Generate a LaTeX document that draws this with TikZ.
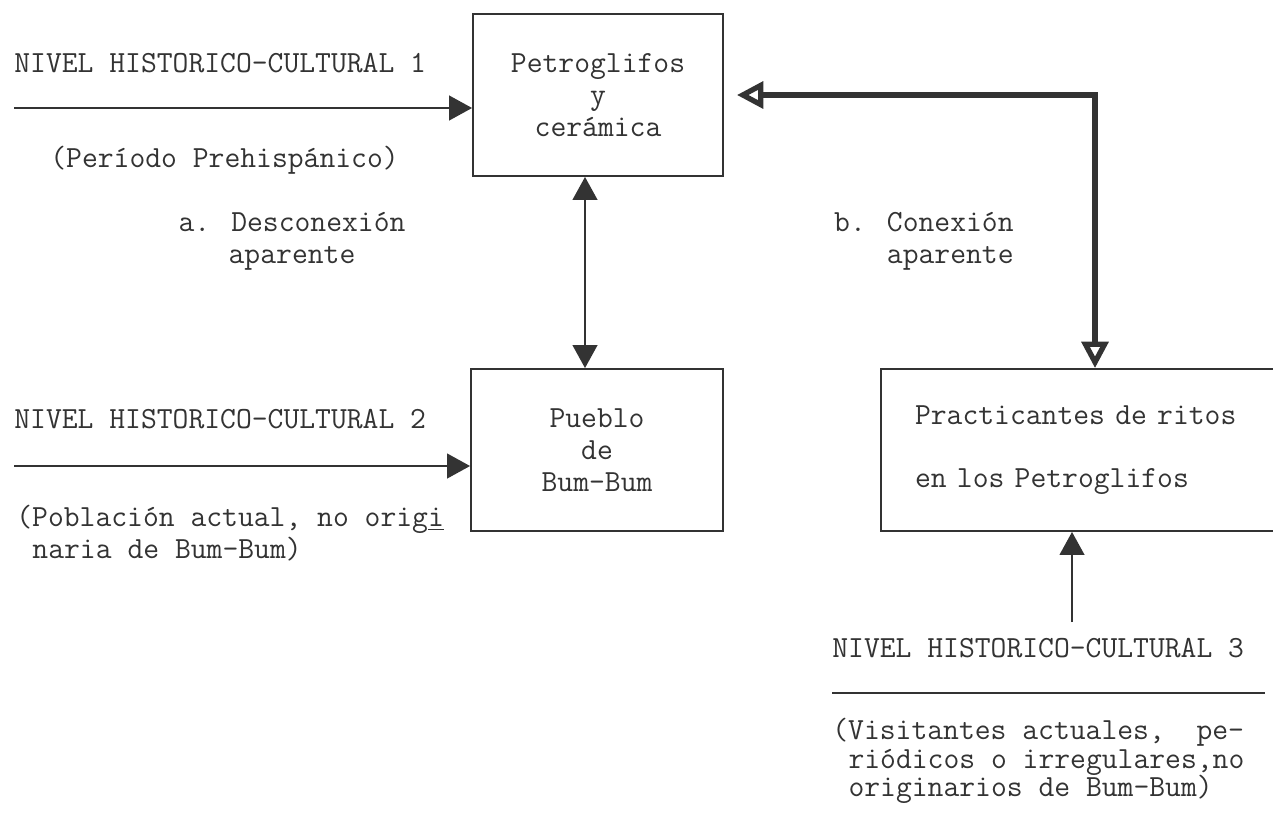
\documentclass[tikz,border=0pt]{standalone}
\usepackage{fontspec}
\usepackage{tikz}
\usetikzlibrary{arrows.meta}
\usetikzlibrary{calc}
\usepackage{xcolor}
\definecolor{ink}{gray}{0.2}

\begin{document}
\begin{tikzpicture}[x=0.02cm,y=-0.02cm,
font=\ttfamily\fontsize{17.5}{18.2}\selectfont,text=ink,inner sep=0pt,
box/.style={draw=ink,line width=1.1pt,minimum height=3.24cm},
thin/.style={draw=ink,line width=1.1pt,-{Triangle[length=13pt,width=14pt]}},
dbl/.style={draw=ink,line width=1.1pt,{Triangle[length=13pt,width=14pt]}-{Triangle[length=13pt,width=14pt]}},
thick/.style={draw=ink,line width=3pt,{Triangle[open,length=15pt,width=15pt]}-{Triangle[open,length=15pt,width=15pt]}}]
\useasboundingbox[fill=white] (0,0) rectangle (1273,818);
%\draw[help lines] (0,0) grid[step=100] (1273,818);

\node (Petro) [box,minimum width=5cm,align=center] at (598,95) {Petroglifos\\y\\cerámica};
\node (Pueblo) [box,minimum width=5.04cm,align=center] at (597,450) {Pueblo\\de\\Bum-Bum};
\node (Ritos) [box,minimum width=8.38cm,text width=7.02cm,inner xsep=0.68cm,align=left] at (1090.5,450)
  {Practicantes de ritos\\[18pt]en los Petroglifos};

\node (n1) [anchor=west] at (14,63) {NIVEL HISTORICO-CULTURAL 1};
\node (p1) [anchor=west] at (50,160) {(Período Prehispánico)};
\node (n2) [anchor=west] at (14,419) {NIVEL HISTORICO-CULTURAL 2};
\node (p2) [anchor=west,align=left] at (16,533)
  {(Población actual, no orig\underline{i}\\\hspace*{0.525em}naria de Bum-Bum)};
\node (n3) [anchor=west] at (832,648) {NIVEL HISTORICO-CULTURAL 3};
\node (p3) [anchor=north west,align=left,font=\ttfamily\fontsize{17.5}{16.2}\selectfont] at (832,718)
  {(Visitantes actuales,~~pe-\\\hspace*{0.525em}riódicos o irregulares,no\\\hspace*{0.525em}originarios de Bum-Bum)};

\node (a) [align=center] at (292,241) {a. Desconexión\\aparente};
\node (b) [anchor=east,align=right] at (1014,241) {b. Conexión\\aparente};

\coordinate (a1) at (14,108);
\coordinate (a2) at (14,466);
\coordinate (a3) at (1072,622);
\coordinate (v) at (585,0);
\coordinate (bend) at (1095,95);

\draw[thin] (a1) -- (a1 -| Petro.west);
\draw[thin] (a2) -- (a2 -| Pueblo.west);
\draw[dbl] (v |- Petro.south) -- (v |- Pueblo.north);
\draw[thin] (a3) -- (a3 |- Ritos.south);
\draw[thick,shorten >=0.26cm] (bend |- Ritos.north) -- (bend) -- (Petro.east);
\draw[ink,line width=1.1pt] (832,693) -- (1265,693);
\end{tikzpicture}
\end{document}
